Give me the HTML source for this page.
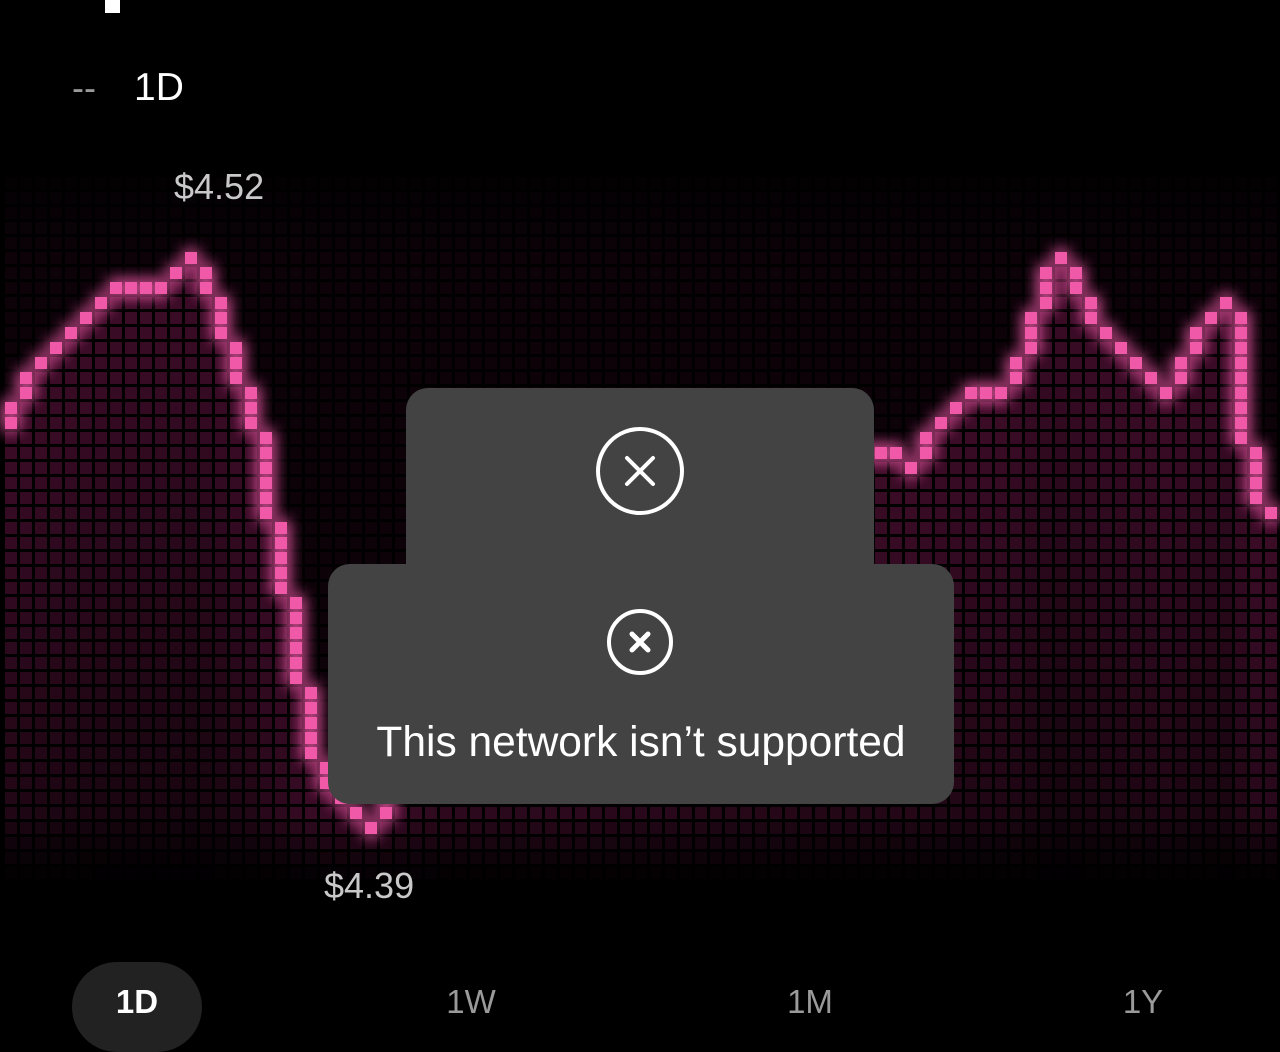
<!DOCTYPE html>
<html><head><meta charset="utf-8">
<style>
html,body{margin:0;padding:0;background:#000;}
body{width:1280px;height:1026px;position:relative;overflow:hidden;font-family:"Liberation Sans",sans-serif;}
.abs{position:absolute;}
.lbl{color:#c9c9c9;font-size:36px;}
.tab{position:absolute;top:983px;font-size:33px;color:#9a9a9a;transform:translateX(-50%);}
.dlg{position:absolute;background:#434343;border-radius:22px;}
</style></head><body>
<div class="abs" style="left:105px;top:0;width:15px;height:13px;background:#fff"></div>
<div class="abs" style="left:72px;top:67px;font-size:36px;color:#9a9a9a">--</div>
<div class="abs" style="left:134px;top:66px;font-size:39px;color:#fff">1D</div>

<svg class="abs" style="left:0;top:0" width="1280" height="1026" id="chart">
<defs>
<filter id="glow" x="-50%" y="-50%" width="200%" height="200%">
<feGaussianBlur stdDeviation="8" result="b"/>
<feMerge><feMergeNode in="b"/><feMergeNode in="b"/><feMergeNode in="SourceGraphic"/></feMerge>
</filter>
</defs>
<g id="bg"></g><g id="lit" filter="url(#glow)"></g>
</svg>

<div class="abs lbl" style="left:174px;top:166px">$4.52</div>
<div class="abs lbl" style="left:324px;top:865px">$4.39</div>

<div class="dlg" style="left:406px;top:388px;width:468px;height:200px">
<svg class="abs" style="left:188px;top:37px" width="92" height="92"><circle cx="46" cy="46" r="42" fill="none" stroke="#fff" stroke-width="4"/><path d="M33 33L59 59M59 33L33 59" stroke="#fff" stroke-width="4" stroke-linecap="round"/></svg>
</div>
<div class="dlg" style="left:328px;top:564px;width:626px;height:240px">
<svg class="abs" style="left:278px;top:44px" width="68" height="68"><circle cx="34" cy="34" r="31" fill="none" stroke="#fff" stroke-width="4"/><path d="M26 26L42 42M42 26L26 42" stroke="#fff" stroke-width="5" stroke-linecap="round"/></svg>
<div class="abs" style="left:0;width:626px;text-align:center;top:155px;font-size:42.5px;color:#fff">This network isn’t supported</div>
</div>

<div class="abs" style="left:72px;top:962px;width:130px;height:90px;border-radius:45px;background:#222"></div>
<div class="tab" style="left:137px;color:#fff;font-weight:bold">1D</div>
<div class="tab" style="left:471px">1W</div>
<div class="tab" style="left:810px">1M</div>
<div class="tab" style="left:1143px">1Y</div>

<script>
const prices = [4.486,4.493,4.496,4.499,4.503,4.506,4.510,4.513,4.513,4.513,4.513,4.517,4.520,4.513,4.503,4.493,4.482,4.462,4.445,4.424,4.407,4.400,4.397,4.393,4.390,
4.397,4.411,4.424,4.434,4.441,4.445,4.445,4.448,4.452,4.452,4.448,4.445,4.445,4.448,4.452,4.455,4.458,4.458,4.462,4.462,4.465,4.465,4.469,4.469,4.469,4.472,4.472,4.472,4.476,4.476,4.476,4.476,4.476,
4.476,4.476,4.472,4.479,4.482,4.486,4.489,4.489,4.489,4.496,4.506,4.517,4.520,4.513,4.506,4.503,4.499,4.496,4.493,4.489,4.496,4.503,4.506,4.510,4.479,4.465,4.462];
const priceMax = [4.52];
const priceMin = [4.39];
const rowsSpan = 38, X0 = 5, Y0 = 252, P = 15, S = 12;
function rowOf(v){ return Math.round((priceMax[0]-v)/(priceMax[0]-priceMin[0])*rowsSpan); }
function xOf(i){ return X0 + i*P; }
function yOf(r){ return Y0 + r*P; }
const NS="http://www.w3.org/2000/svg";
const bg=document.getElementById('bg'), lit=document.getElementById('lit');
const rows = prices.map(rowOf);
for(let i=0;i<85;i++){
  const r = i<rows.length ? rows[i] : rows[rows.length-1];
  for(let j=-5;j<=42;j++){
    const y=yOf(j);
    let a;
    if(j<r){ a = 0.06; } else { a = 0.30 - (j-r)*0.005; }
    let edge=1;
    if(j<0) edge = 0.3+ (j+5)*0.14;
    if(j>37) edge = Math.max(0,1-(j-37)*0.22);
    const el=document.createElementNS(NS,'rect');
    
    
    el.setAttribute('x',xOf(i)); el.setAttribute('y',y);
    el.setAttribute('width',S); el.setAttribute('height',S);
    el.setAttribute('fill','rgb(200,40,130)');
    el.setAttribute('opacity',(Math.max(0.02,a)*edge).toFixed(3));
    bg.appendChild(el);
  }
}
for(let i=0;i<rows.length;i++){
  const r=rows[i];
  const prev = i===0 ? r+2 : rows[i-1];
  let lo,hi;
  if(prev===r){lo=r;hi=r;} else if(prev>r){lo=r;hi=prev-1;} else {lo=prev+1;hi=r;}
  for(let j=lo;j<=hi;j++){
    const el=document.createElementNS(NS,'rect');
    
    
    el.setAttribute('x',xOf(i)); el.setAttribute('y',yOf(j));
    el.setAttribute('width',S); el.setAttribute('height',S);
    el.setAttribute('fill','#f058a8');
    lit.appendChild(el);
  }
}
</script>
</body></html>
